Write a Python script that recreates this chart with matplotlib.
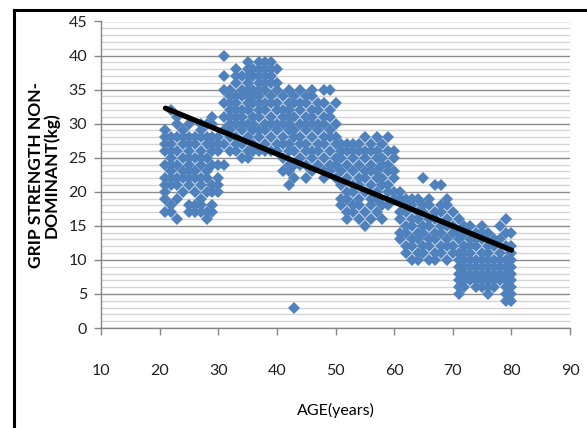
import numpy as np
import matplotlib
matplotlib.use("Agg")
import matplotlib.pyplot as plt
from matplotlib.ticker import MultipleLocator
from matplotlib.lines import Line2D

# grip strength (kg), one list per age, decade by decade
grip_21_30 = [
    [17, 19, 20, 21, 22, 24, 26, 27, 28, 29],
    [17, 18, 21, 22, 23, 24, 25, 26, 27, 28, 32],
    [16, 19, 21, 22, 24, 26, 28, 30, 31],
    [20, 22, 23, 25, 27, 28, 29],
    [17, 18, 21, 22, 23, 24, 25, 26, 27, 28, 30],
    [17, 18, 20, 22, 23, 25, 27, 28],
    [17, 18, 19, 21, 22, 24, 25, 26, 28, 29, 30],
    [16, 17, 20, 22, 23, 25, 27, 28, 30],
    [17, 18, 20, 21, 24, 26, 27, 28, 30, 31],
    [20, 21, 22, 24, 26, 27, 28],
]
grip_31_40 = [
    [24, 27, 29, 31, 33, 35, 37, 40],
    [26, 28, 29, 30, 31, 32, 33, 34, 35],
    [26, 27, 28, 30, 31, 32, 33, 34, 36, 37, 38],
    [25, 27, 29, 30, 31, 32, 34, 35, 37],
    [25, 26, 28, 30, 32, 33, 34, 35, 36, 37, 38, 39],
    [26, 27, 29, 30, 31, 33, 34, 35, 37, 38],
    [26, 28, 29, 31, 32, 33, 34, 35, 36, 37, 38, 39],
    [26, 27, 29, 30, 32, 33, 35, 36, 37, 38, 39],
    [26, 28, 30, 31, 33, 34, 36, 37, 38, 39],
    [26, 27, 29, 30, 32, 33, 35, 36, 38],
]
grip_41_50 = [
    [23, 25, 27, 28, 30, 31, 32, 34],
    [21, 23, 24, 26, 27, 29, 30, 31, 32, 33, 35],
    [3, 22, 24, 26, 28, 29, 31, 33, 34],
    [24, 25, 27, 28, 30, 32, 33, 35],
    [22, 24, 26, 27, 29, 30, 31, 33, 34],
    [23, 25, 26, 28, 30, 31, 32, 34, 35],
    [24, 26, 27, 29, 30, 32, 33],
    [22, 23, 25, 27, 28, 30, 31, 33, 35],
    [23, 24, 26, 28, 29, 31, 32, 35],
    [22, 24, 25, 27, 28, 30, 33],
]
grip_51_60 = [
    [18, 19, 21, 23, 25, 26, 27],
    [16, 17, 19, 20, 22, 24, 26, 27],
    [17, 18, 20, 21, 23, 25, 26, 27],
    [16, 18, 19, 21, 22, 24, 26, 27],
    [15, 17, 20, 22, 23, 25, 26, 28],
    [16, 18, 19, 21, 23, 24, 26, 27],
    [17, 19, 20, 22, 23, 25, 26, 28],
    [16, 18, 21, 22, 24, 25, 27],
    [18, 20, 21, 23, 24, 26, 28],
    [19, 20, 22, 23, 25, 26],
]
grip_61_70 = [
    [13, 14, 16, 17, 19, 20],
    [11, 12, 14, 15, 17, 18, 19],
    [10, 12, 13, 15, 16, 18, 19],
    [10, 11, 13, 14, 16, 17, 19],
    [11, 12, 14, 15, 17, 18, 22],
    [10, 12, 13, 15, 16, 18, 19],
    [10, 11, 13, 14, 16, 17, 21],
    [11, 12, 14, 15, 17, 18, 21],
    [10, 12, 13, 15, 16, 18, 19],
    [11, 12, 14, 15, 17],
]
grip_71_80 = [
    [5, 6, 7, 8, 9, 10, 11, 13, 14, 16],
    [6, 7, 8, 9, 10, 11, 12, 14, 15],
    [7, 8, 9, 10, 11, 12, 13, 15],
    [6, 7, 8, 9, 10, 12, 13, 14],
    [6, 7, 8, 9, 10, 11, 13, 14, 15],
    [5, 6, 7, 8, 9, 10, 11, 12, 14],
    [6, 7, 8, 9, 10, 12, 13],
    [7, 8, 9, 10, 11, 13, 15],
    [4, 5, 6, 7, 8, 9, 10, 12, 14, 16],
    [4, 5, 6, 7, 8, 9, 10, 11, 12, 14],
]
ages = list(range(21, 81))

x_ticks = [10, 20, 30, 40, 50, 60, 70, 80, 90]
y_ticks = [0, 5, 10, 15, 20, 25, 30, 35, 40, 45]

# flatten to (age, grip) pairs
all_lists = grip_21_30 + grip_31_40 + grip_41_50 + grip_51_60 + grip_61_70 + grip_71_80
xs, ys = [], []
for age, vals in zip(ages, all_lists):
    for v in vals:
        xs.append(age)
        ys.append(v)
xs = np.array(xs, dtype=float)
ys = np.array(ys, dtype=float)

# linear trend line like Excel
slope, intercept = np.polyfit(xs, ys, 1)
tx = np.array([xs.min(), xs.max()])
ty = slope * tx + intercept

plt.rcParams['font.family'] = ['Lato', 'DejaVu Sans']

fig = plt.figure(figsize=(5.87, 4.28), dpi=100)
ax = fig.add_axes([101 / 587, 100 / 428, 469 / 587, 306.5 / 428])

ax.plot(xs, ys, linestyle='none', marker='D', markersize=6.6,
        color='#4F81BD', markeredgewidth=0, zorder=3)
ax.plot(tx, ty, color='black', linewidth=3.8, solid_capstyle='round', zorder=4)

ax.set_xlim(10, 90)
ax.set_ylim(0, 45)
ax.set_xticks(x_ticks)
ax.set_yticks(y_ticks)
ax.yaxis.set_minor_locator(MultipleLocator(1))

ax.grid(axis='y', which='major', color='#8c8c8c', linewidth=1.0, zorder=0)
ax.grid(axis='y', which='minor', color='#d4d4d4', linewidth=1.0, zorder=0)
ax.set_axisbelow(True)

for side in ['top', 'right']:
    ax.spines[side].set_visible(False)
for side in ['left', 'bottom']:
    ax.spines[side].set_color('#868686')
    ax.spines[side].set_linewidth(1.0)

ax.tick_params(axis='both', which='major', colors='#868686', labelcolor='#222222',
               labelsize=11.5, direction='out', length=5, width=1)
ax.tick_params(axis='x', pad=21)
ax.tick_params(axis='y', pad=5)
ax.tick_params(axis='y', which='minor', length=0)

ax.set_xlabel('AGE(years)', fontsize=11.5, labelpad=18)
ax.set_ylabel('GRIP STRENGTH NON-\nDOMINANT(kg)', fontsize=12.5,
              fontweight='bold', labelpad=6, linespacing=0.95)

# black frame around the chart (left and top edges visible)
fig.add_artist(Line2D([13.5 / 587, 13.5 / 587], [0, 1 - 10 / 428],
                      transform=fig.transFigure, color='black', linewidth=2.2))
fig.add_artist(Line2D([13.5 / 587, 1], [1 - 10 / 428, 1 - 10 / 428],
                      transform=fig.transFigure, color='black', linewidth=2.2))

fig.savefig('out.png', dpi=100)
